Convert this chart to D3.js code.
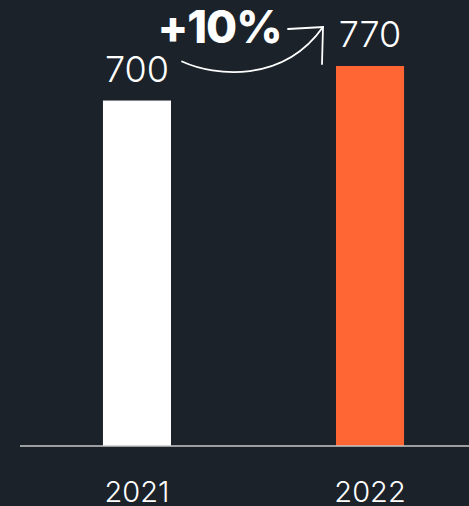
<!DOCTYPE html>
<html>
<head>
<meta charset="utf-8">
<script src="https://cdn.jsdelivr.net/npm/d3@7"></script>
<style>
  html, body { margin: 0; padding: 0; background: #1b222a; }
  svg { display: block; }
</style>
</head>
<body>
<script>
// Yearly totals
const years = ["2021", "2022"];
const totals = [700, 770];
const barColors = ["#ffffff", "#ff6633"];
const changeLabel = "+10%";

const width = 469, height = 506;
const baseY = 446;

const svg = d3.select("body").append("svg")
  .attr("width", width)
  .attr("height", height)
  .style("background", "#1b222a");

const x = d3.scaleBand()
  .domain(years)
  .range([37, 470])
  .paddingInner(0.708)
  .paddingOuter(0.283);

const y = d3.scaleLinear()
  .domain([0, 770])
  .range([baseY, 66]);

const data = years.map((yr, i) => ({ year: yr, value: totals[i], color: barColors[i] }));

// bars
svg.selectAll("rect.bar")
  .data(data)
  .join("rect")
  .attr("class", "bar")
  .attr("x", d => x(d.year))
  .attr("y", d => y(d.value))
  .attr("width", x.bandwidth())
  .attr("height", d => y(0) - y(d.value))
  .attr("fill", d => d.color);

// baseline and year labels
const axis = svg.append("g")
  .attr("transform", `translate(0,${baseY})`)
  .call(d3.axisBottom(x).tickSize(0).tickPadding(35));
axis.select(".domain").remove();
axis.append("line")
  .attr("x1", 20).attr("x2", width)
  .attr("stroke", "#c8c8c8").attr("stroke-width", 1.6);
axis.selectAll(".tick text")
  .attr("fill", "#ffffff")
  .style("font-family", "Inter, 'Open Sans', sans-serif")
  .style("font-weight", 300)
  .style("font-size", "29px");

// value labels
svg.selectAll("text.value")
  .data(data)
  .join("text")
  .attr("class", "value")
  .attr("x", d => x(d.year) + x.bandwidth() / 2)
  .attr("y", d => y(d.value) - 19)
  .attr("text-anchor", "middle")
  .attr("fill", "#ffffff")
  .style("font-family", "Inter, 'Open Sans', sans-serif")
  .style("font-weight", 300)
  .style("font-size", "36px")
  .text(d => d.value);

// growth arrow between the two value labels
const xa = x(years[0]) + x.bandwidth() + 11;
const xb = x(years[1]) - 13;
const ya = y(totals[0]) - 39;
const yb = y(totals[1]) - 39;
const curve = d3.path();
curve.moveTo(xa, ya);
curve.bezierCurveTo(xa + 33, ya + 15, xb - 40, ya + 22, xb, yb);
svg.append("path")
  .attr("d", curve.toString())
  .attr("fill", "none")
  .attr("stroke", "#ffffff")
  .attr("stroke-width", 1.8)
  .attr("stroke-linecap", "round");

const head = d3.path();
head.moveTo(xb - 35, yb + 2);
head.lineTo(xb, yb);
head.lineTo(xb - 1, yb + 37);
svg.append("path")
  .attr("d", head.toString())
  .attr("fill", "none")
  .attr("stroke", "#ffffff")
  .attr("stroke-width", 1.8)
  .attr("stroke-linecap", "round")
  .attr("stroke-linejoin", "miter");

svg.append("text")
  .attr("x", (xa + xb) / 2 - 33)
  .attr("y", yb + 16)
  .attr("text-anchor", "middle")
  .attr("fill", "#ffffff")
  .style("font-family", "Inter, 'Open Sans', sans-serif")
  .style("font-weight", 800)
  .style("font-size", "45px")
  .style("letter-spacing", "-1px")
  .text(changeLabel);
</script>
</body>
</html>
